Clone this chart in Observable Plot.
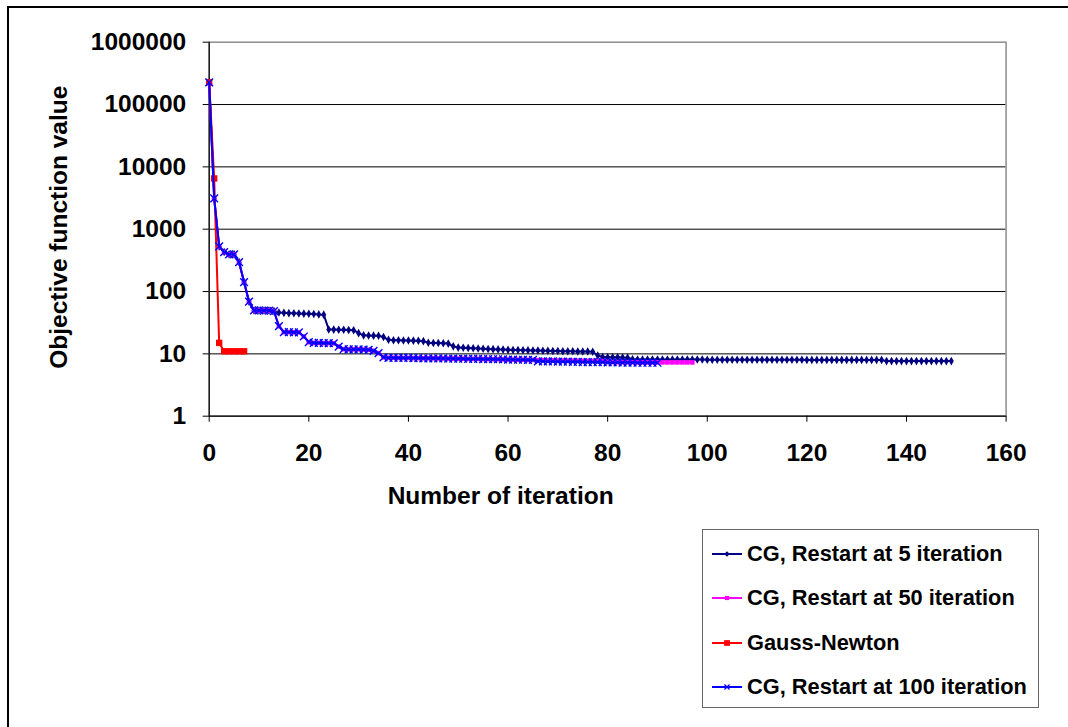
<!DOCTYPE html>
<html>
<head>
<meta charset="utf-8">
<script src="https://cdn.jsdelivr.net/npm/d3@7"></script>
<script src="https://cdn.jsdelivr.net/npm/@observablehq/plot@0.6"></script>
<style>
  html, body { margin: 0; padding: 0; background: #fff; overflow: hidden; }
  body { font-family: "Liberation Sans", Arial, sans-serif; font-weight: bold; }
  #page { position: relative; width: 1068px; height: 727px; }
  #chart svg { display: block; }
  #border { position: absolute; left: 7px; top: 6px; width: 1100px; height: 800px;
            border: 2px solid #000; box-sizing: border-box; pointer-events: none; }
  #legend { position: absolute; left: 702px; top: 529px; width: 337px; height: 179px;
            border: 1.5px solid #666; box-sizing: border-box; background: #fff; }
  .row { position: absolute; left: 0; height: 40px; display: flex; align-items: center; }
  .row svg { margin-left: 9px; margin-right: 5px; }
  .row span { font-size: 21.8px; color: #000; white-space: nowrap; }
</style>
</head>
<body>
<div id="page">
  <div id="chart"></div>
  <div id="legend"></div>
  <div id="border"></div>
</div>
<script>
// Objective function value per iteration for each optimisation method
const seriesNames = [
  "CG, Restart at 5 iteration",
  "CG, Restart at 50 iteration",
  "Gauss-Newton",
  "CG, Restart at 100 iteration"
];

const cgRestart5 = [
  227000, 3120, 530, 430, 395, 395, 296, 142, 68.6, 49.7,
  49.7, 49.5, 49.5, 48.5, 46, 45.5, 45, 44.8, 44.5, 44.2,
  44, 43.6, 43, 42.6, 24.6, 24.5, 24.4, 24.3, 24.2, 24.0,
  21.5, 19.8, 19.7, 19.6, 19.5, 18.6, 16.8, 16.5, 16.5, 16.4,
  16.4, 16.3, 16.2, 16.0, 15.1, 14.9, 14.9, 14.8, 14.6, 13.2,
  12.6, 12.5, 12.4, 12.3, 12.2, 12.1, 12.0, 11.9, 11.8, 11.7,
  11.6, 11.5, 11.5, 11.4, 11.4, 11.3, 11.3, 11.2, 11.2, 11.1,
  11.1, 11.0, 11.0, 11.0, 10.9, 10.9, 10.9, 10.8, 9.4, 8.9,
  8.85, 8.8, 8.8, 8.75, 8.7, 8.2, 8.1, 8.1, 8.1, 8.1,
  8.1, 8.1, 8.1, 8.1, 8.1, 8.1, 8.1, 8.1, 8.1, 8.1,
  8.05, 8.05, 8.05, 8.05, 8.05, 8.05, 8.05, 8.05, 8.05, 8.05,
  8.05, 8.05, 8.05, 8.05, 8.05, 8.05, 8.05, 8.05, 8.05, 8.05,
  8.0, 8.0, 8.0, 8.0, 8.0, 8.0, 8.0, 8.0, 8.0, 8.0,
  8.0, 8.0, 8.0, 8.0, 8.0, 8.0, 7.65, 7.65, 7.65, 7.65,
  7.65, 7.65, 7.65, 7.65, 7.65, 7.65, 7.65, 7.65, 7.65, 7.65
];

const cgRestart50 = [
  227000, 3120, 530, 430, 395, 395, 296, 142, 68.6, 49.7,
  49.7, 49.5, 49.5, 48.5, 27.8, 22.3, 22.3, 22.2, 22.2, 19.0,
  15.4, 15.0, 15.0, 14.9, 14.9, 14.8, 13.1, 11.9, 11.8, 11.8,
  11.8, 11.7, 11.6, 11.2, 10.3, 8.8, 8.65, 8.65, 8.6, 8.6,
  8.6, 8.55, 8.55, 8.5, 8.5, 8.5, 8.45, 8.45, 8.4, 8.4,
  8.35, 8.35, 8.3, 8.3, 8.3, 8.25, 8.25, 8.2, 8.2, 8.15,
  8.1, 8.1, 8.05, 8.05, 8.0, 8.0, 7.9, 7.9, 7.85, 7.85,
  7.8, 7.8, 7.8, 7.75, 7.75, 7.7, 7.7, 7.7, 7.65, 7.65,
  7.4, 7.4, 7.35, 7.35, 7.35, 7.35, 7.3, 7.3, 7.3, 7.3,
  7.3, 7.3, 7.3, 7.3, 7.3, 7.3, 7.3, 7.3
];

const gaussNewton = [227000, 6530, 15.0, 11.0, 11.0, 11.0, 11.0, 11.0];

const cgRestart100 = [
  227000, 3120, 530, 430, 395, 395, 296, 142, 68.6, 49.7,
  49.7, 49.5, 49.5, 48.5, 27.8, 22.3, 22.3, 22.2, 22.2, 19.0,
  15.4, 15.0, 15.0, 14.9, 14.9, 14.8, 13.1, 11.9, 11.8, 11.8,
  11.8, 11.7, 11.6, 11.2, 10.3, 8.8, 8.65, 8.65, 8.6, 8.6,
  8.6, 8.55, 8.55, 8.5, 8.5, 8.5, 8.45, 8.45, 8.4, 8.4,
  8.35, 8.35, 8.3, 8.3, 8.3, 8.25, 8.25, 8.2, 8.2, 8.15,
  8.1, 8.1, 8.05, 8.05, 8.0, 8.0, 7.6, 7.6, 7.55, 7.55,
  7.5, 7.5, 7.5, 7.45, 7.45, 7.4, 7.4, 7.4, 7.35, 7.35,
  7.3, 7.3, 7.3, 7.25, 7.25, 7.25, 7.2, 7.2, 7.2, 7.2,
  7.2
];

const iterationTicks = [0, 20, 40, 60, 80, 100, 120, 140, 160];
const valueTicks = [1, 10, 100, 1000, 10000, 100000, 1000000];

// Drawing style for each series: line colour and marker
const styles = [
  {values: cgRestart5,   color: "#000080", symbol: "diamond", r: 2.6, fill: true},
  {values: cgRestart50,  color: "#ff00ff", symbol: "square",  r: 2.6, fill: true},
  {values: gaussNewton,  color: "#ff0000", symbol: "square",  r: 3.6, fill: true},
  {values: cgRestart100, color: "#0000ff", symbol: "times",   r: 3.6, fill: false}
];

const seriesData = styles.map((s, k) =>
  s.values.map((v, i) => ({series: seriesNames[k], iteration: i, value: v}))
);

const fontFamily = '"Liberation Sans", Arial, sans-serif';

const seriesMarks = styles.flatMap((s, k) => [
  Plot.line(seriesData[k], {x: "iteration", y: "value", stroke: s.color, strokeWidth: 2}),
  Plot.dot(seriesData[k], s.fill
    ? {x: "iteration", y: "value", symbol: s.symbol, r: s.r, fill: s.color, stroke: "none"}
    : {x: "iteration", y: "value", symbol: s.symbol, r: s.r, stroke: s.color, strokeWidth: 1.4})
]);

const chart = Plot.plot({
  width: 1068,
  height: 522,
  marginLeft: 208.7,
  marginRight: 62.4,
  marginTop: 41.7,
  marginBottom: 106.3,
  style: {fontFamily, fontSize: "24.5px", fontWeight: "bold", color: "#000", background: "#fff"},
  x: {domain: [0, 160]},
  y: {type: "log", domain: [1, 1000000]},
  marks: [
    Plot.ruleY(valueTicks.slice(1, -1), {stroke: "#000", strokeWidth: 1}),
    Plot.frame({stroke: "#8c8c8c", strokeWidth: 1.5}),
    Plot.ruleX([0], {stroke: "#000", strokeWidth: 1.2}),
    Plot.ruleY([1], {stroke: "#000", strokeWidth: 1.2}),
    Plot.axisX({ticks: iterationTicks, tickSize: 6, tickPadding: 21, label: null, tickFormat: d => String(d)}),
    Plot.axisY({ticks: valueTicks, tickSize: 6, tickPadding: 17, label: null, tickFormat: d3.format("d")}),
    ...seriesMarks,
    Plot.text(["Number of iteration"], {
      frameAnchor: "bottom", text: d => d, dx: -107, dy: 88,
      fontSize: 24.5, fontWeight: "bold", fill: "#000"
    }),
    Plot.text(["Objective function value"], {
      frameAnchor: "left", text: d => d, rotate: -90, dx: -150.5, dy: -2,
      textAnchor: "middle", fontSize: 24.5, fontWeight: "bold", fill: "#000"
    })
  ]
});
document.getElementById("chart").append(chart);

// Legend entries with a short line and marker swatch
const legend = document.getElementById("legend");
const symbolPaths = {
  diamond: r => `M0,${-r * 1.3}L${r * 1.3},0L0,${r * 1.3}L${-r * 1.3},0Z`,
  square: r => `M${-r},${-r}H${r}V${r}H${-r}Z`,
  times: r => `M${-r},${-r}L${r},${r}M${r},${-r}L${-r},${r}`
};
styles.forEach((s, k) => {
  const row = document.createElement("div");
  row.className = "row";
  row.style.top = (4 + k * 44.3) + "px";
  const m = s.fill
    ? `<path d="${symbolPaths[s.symbol](s.r * 0.8)}" transform="translate(15,10)" fill="${s.color}"/>`
    : `<path d="${symbolPaths[s.symbol](s.r * 0.7)}" transform="translate(15,10)" stroke="${s.color}" stroke-width="1.3" fill="none"/>`;
  row.innerHTML =
    `<svg width="30" height="20"><line x1="0" x2="30" y1="10" y2="10" stroke="${s.color}" stroke-width="2"/>${m}</svg>` +
    `<span>${seriesNames[k]}</span>`;
  legend.append(row);
});
</script>
</body>
</html>
